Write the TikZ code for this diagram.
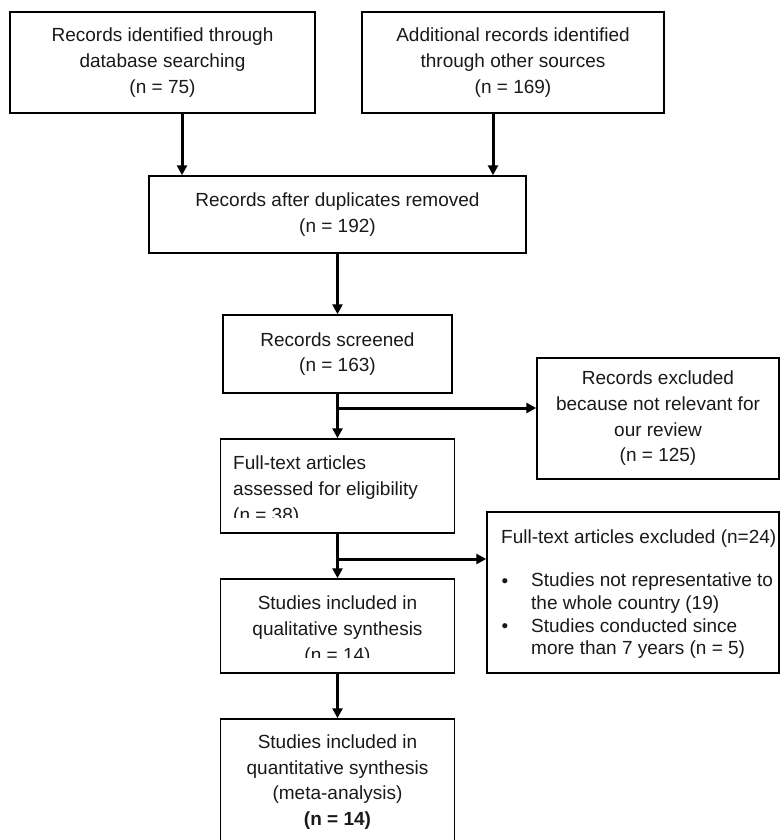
\documentclass[tikz,border=0pt]{standalone}
\usepackage{fontspec}
\setmainfont{Liberation Sans}
\usetikzlibrary{arrows.meta}
\definecolor{txt}{RGB}{25,25,25}
\begin{document}
\begin{tikzpicture}[x=1pt,y=-1pt,
  box/.style={draw=black, line width=1.5pt, inner sep=0pt, align=center,
    font=\fontsize{19}{25.7}\selectfont, text=txt},
  arr/.style={line width=3pt, -{Triangle[length=10pt,width=10pt]}},
  lbl/.style={inner sep=0pt, font=\fontsize{19}{25.7}\selectfont, text=txt},
  lst/.style={inner sep=0pt, font=\fontsize{19}{22.6}\selectfont, text=txt}]
\useasboundingbox (0,0) rectangle (780,840);
\clip (0,0) rectangle (780,840);

% boxes
\node[box, minimum width=305, minimum height=101] (b1) at (162.5,62.5)
  {Records identified through\\database searching\\(n = 75)};
\node[box, minimum width=302, minimum height=101] (b2) at (513,62.5)
  {Additional records identified\\through other sources\\(n = 169)};
\node[box, minimum width=377, minimum height=77] (b3) at (337.5,214.5)
  {Records after duplicates removed\\(n = 192)};
\node[box, minimum width=229, minimum height=78] (b4) at (337.5,354)
  {Records screened\\(n = 163)};
\node[box, minimum width=242, minimum height=121] (b5) at (658,418.5)
  {Records excluded\\because not relevant for\\our review\\(n = 125)};
\node[box, minimum width=234, minimum height=94] (b6) at (337.5,486) {};
\node[box, minimum width=292, minimum height=161] (b7) at (633,592.5) {};
\node[box, minimum width=234, minimum height=94] (b8) at (337.5,626) {};
\node[box, minimum width=234, minimum height=126] (b9) at (337.5,782) {};

% texts of boxes drawn empty
\begin{scope}
  \clip (221,439) rectangle (455,517);
  \node[lbl, anchor=north west, align=left] (t6) at (233,456)
    {Full-text articles\\assessed for eligibility\\(n = 38)};
\end{scope}
\node[lbl, anchor=base west] (t7) at (501,543) {Full-text articles excluded (n=24)};
\node[lst, anchor=base] (d1) at (505,587) {•};
\node[lst, anchor=base] (d2) at (505,632) {•};
\node[lst, anchor=north west, align=left] (t7b) at (531,573)
  {Studies not representative to\\the whole country (19)\\Studies conducted since\\more than 7 years (n = 5)};
\begin{scope}
  \clip (221,579) rectangle (455,657);
  \node[lbl, anchor=north, align=center] (t8) at (337.5,596)
    {Studies included in\\qualitative synthesis\\(n = 14)};
\end{scope}
\node[lbl, align=center] (t9) at (337.5,782)
  {Studies included in\\quantitative synthesis\\(meta-analysis)\\\textbf{(n = 14)}};

% connectors
\coordinate (ax1) at (182,0);
\coordinate (ax2) at (493,0);
\coordinate (br1) at (337.5,408);
\coordinate (br2) at (337.5,559);
\draw[arr] (b1.south -| ax1) -- (b3.north -| ax1);
\draw[arr] (b2.south -| ax2) -- (b3.north -| ax2);
\draw[arr] (b3.south) -- (b4.north);
\draw[arr] (b4.south) -- (b6.north);
\draw[arr] (br1) -- (br1 -| b5.west);
\draw[arr] (b6.south) -- (b8.north);
\draw[arr] (br2) -- (br2 -| b7.west);
\draw[arr] (b8.south) -- (b9.north);
\end{tikzpicture}
\end{document}
